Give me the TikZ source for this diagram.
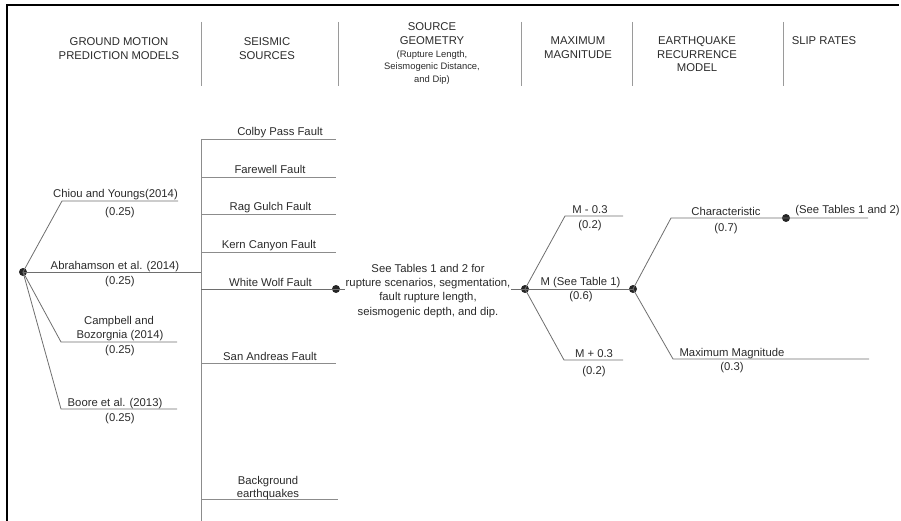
\documentclass[tikz,border=0pt]{standalone}
\usepackage{fontspec}
\setmainfont{Liberation Sans}
\definecolor{txt}{HTML}{2A2A2A}
\definecolor{lnc}{HTML}{6E6E6E}
\definecolor{flc}{HTML}{8C8C8C}
\definecolor{sepc}{HTML}{9A9A9A}
\newcommand\lblfont{\fontsize{11.3}{13.5}\selectfont}
\newcommand\subfont{\fontsize{9.4}{12.6}\selectfont}
\tikzset{
  lbl/.style={font=\lblfont, text=txt, inner sep=0pt, anchor=base},
  hdr/.style={font=\lblfont, text=txt, inner sep=0pt, align=center, anchor=north},
  ln/.style={draw=lnc, line width=0.8pt},
  fl/.style={draw=flc, line width=0.8pt},
  sep/.style={draw=sepc, line width=1pt},
  frame/.style={draw=black, line width=1.4pt},
  dotn/.style={circle, fill=black!85, inner sep=0pt, minimum size=8pt},
}
\begin{document}
\begin{tikzpicture}[x=1pt,y=-1pt]
\useasboundingbox (0,0) rectangle (901,521);
% frame
\coordinate (fTL) at (7,5);
\coordinate (fBL) at (7,521);
\coordinate (fTR) at (899,5);
\draw[frame] (fBL) -- (fTL) -- (fTR);

% header separators
\foreach \x/\n in {201/s1,338/s2,521/s3,632/s4,783/s5}{
  \coordinate (\n t) at (\x,22);
  \coordinate (\n b) at (\x,86);
  \draw[sep] (\n t) -- (\n b);
}
% headers
\node[hdr] (h1) at (119,37.9) {GROUND MOTION\\PREDICTION MODELS};
\node[hdr] (h2) at (267,37.9) {SEISMIC\\SOURCES};
\node[hdr] (h3) at (432,22.9) {SOURCE\\GEOMETRY};
\node[hdr, font=\subfont] (h3b) at (432,50.2) {(Rupture Length,\\Seismogenic Distance,\\and Dip)};
\node[hdr] (h4) at (578,36.9) {MAXIMUM\\MAGNITUDE};
\node[hdr] (h5) at (697,36.9) {EARTHQUAKE\\RECURRENCE\\MODEL};
\node[hdr] (h6) at (824,36.9) {SLIP RATES};

% ground motion branches
\node[dotn] (root) at (23,272) {};
\coordinate (chA) at (62,201);
\coordinate (chB) at (178,201);
\coordinate (abB) at (201,272);
\coordinate (caA) at (61,342);
\coordinate (caB) at (177,342);
\coordinate (boA) at (61,409);
\coordinate (boB) at (177,409);
\draw[ln] (root.center) -- (chA) -- (chB);
\draw[ln] (root.center) -- (abB);
\draw[ln] (root.center) -- (caA) -- (caB);
\draw[ln] (root.center) -- (boA) -- (boB);
\node[lbl] (chL) at (115.5,198) {Chiou and Youngs(2014)};
\node[lbl] (chP) at (120,215) {(0.25)};
\node[lbl] (abL) at (115,269) {Abrahamson et al. (2014)};
\node[lbl] (abP) at (120,284) {(0.25)};
\node[lbl] (caL) at (119,324) {Campbell and};
\node[lbl] (caL2) at (120,338) {Bozorgnia (2014)};
\node[lbl] (caP) at (120,353) {(0.25)};
\node[lbl] (boL) at (115,406.5) {Boore et al. (2013)};
\node[lbl] (boP) at (120,421) {(0.25)};

% seismic sources
\coordinate (vT) at (201,139);
\coordinate (vB) at (201,521);
\draw[fl] (vT) -- (vB);
\coordinate (cpA) at (201,139); \coordinate (cpB) at (336,139);
\coordinate (fwA) at (201,177); \coordinate (fwB) at (336,177);
\coordinate (rgA) at (201,214); \coordinate (rgB) at (336,214);
\coordinate (kcA) at (201,252); \coordinate (kcB) at (336,252);
\coordinate (wwA) at (201,289);
\coordinate (saA) at (201,363); \coordinate (saB) at (336,363);
\coordinate (bgA) at (201,499); \coordinate (bgB) at (338,499);
\node[dotn] (ww) at (336,289) {};
\draw[fl] (cpA) -- (cpB);
\draw[fl] (fwA) -- (fwB);
\draw[fl] (rgA) -- (rgB);
\draw[fl] (kcA) -- (kcB);
\draw[ln] (wwA) -- (ww.center);
\draw[fl] (saA) -- (saB);
\draw[fl] (bgA) -- (bgB);
\node[lbl] (cpL) at (280,136) {Colby Pass Fault};
\node[lbl] (fwL) at (270,173.5) {Farewell Fault};
\node[lbl] (rgL) at (270.5,210.5) {Rag Gulch Fault};
\node[lbl] (kcL) at (269,248.5) {Kern Canyon Fault};
\node[lbl] (wwL) at (270.5,286) {White Wolf Fault};
\node[lbl] (saL) at (270,360) {San Andreas Fault};
\node[lbl] (bgL) at (268,484) {Background};
\node[lbl] (bgL2) at (268,497) {earthquakes};

% source geometry
\node[dotn] (geo) at (525,289) {};
\draw[ln] (ww.center) -- (geo.center);
\node[font=\fontsize{11.3}{14.4}\selectfont, text=txt, align=center, fill=white, inner sep=1pt, anchor=north] (geoT) at (428,262.8)
  {See Tables 1 and 2 for\\rupture scenarios, segmentation,\\fault rupture length,\\seismogenic depth, and dip.};

% maximum magnitude
\coordinate (m1A) at (565,216); \coordinate (m1B) at (623,216);
\coordinate (m3A) at (564,360); \coordinate (m3B) at (623,360);
\node[dotn] (rec) at (633,289) {};
\draw[ln] (geo.center) -- (m1A) -- (m1B);
\draw[ln] (geo.center) -- (rec.center);
\draw[ln] (geo.center) -- (m3A) -- (m3B);
\node[lbl] (m1L) at (590,214) {M - 0.3};
\node[lbl] (m1P) at (590,229) {(0.2)};
\node[lbl] (m2L) at (580.5,285) {M (See Table 1)};
\node[lbl] (m2P) at (581,299.5) {(0.6)};
\node[lbl] (m3L) at (594,357.5) {M + 0.3};
\node[lbl] (m3P) at (594,374) {(0.2)};

% recurrence model
\coordinate (r1A) at (671,218);
\node[dotn] (slip) at (786,218) {};
\coordinate (slipE) at (868,218);
\coordinate (r2A) at (673,359); \coordinate (r2B) at (869,359);
\draw[ln] (rec.center) -- (r1A) -- (slip.center) -- (slipE);
\draw[ln] (rec.center) -- (r2A) -- (r2B);
\node[lbl] (r1L) at (726,215.5) {Characteristic};
\node[lbl] (r1P) at (726,231) {(0.7)};
\node[lbl, fill=white, inner sep=0.5pt] (slipL) at (847.5,214) {(See Tables 1 and 2)};
\node[lbl] (r2L) at (732,356) {Maximum Magnitude};
\node[lbl] (r2P) at (732,370) {(0.3)};
\end{tikzpicture}
\end{document}
